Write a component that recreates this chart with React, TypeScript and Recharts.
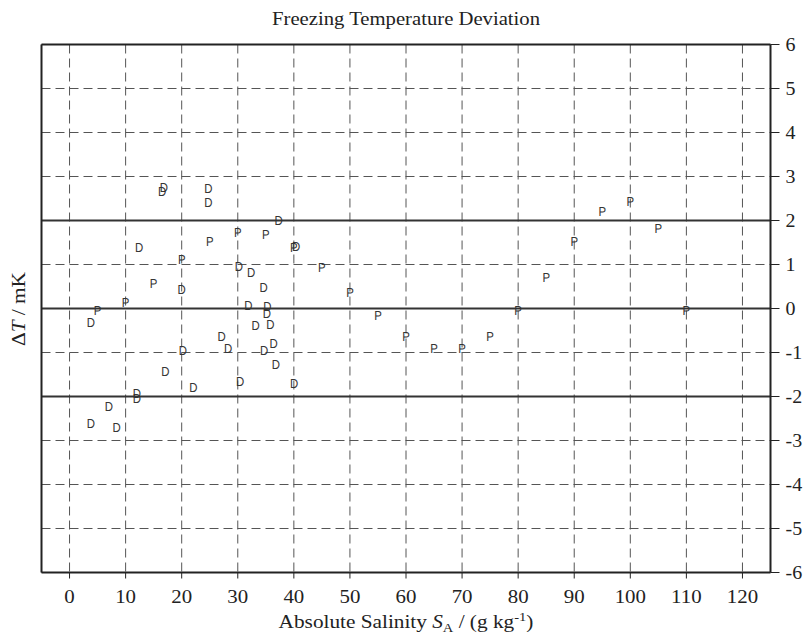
import React from 'react';
import { ScatterChart, Scatter, XAxis, YAxis, CartesianGrid, ReferenceLine } from 'recharts';

const xTicks = [0, 10, 20, 30, 40, 50, 60, 70, 80, 90, 100, 110, 120];
const yTicks = [-6, -5, -4, -3, -2, -1, 0, 1, 2, 3, 4, 5, 6];
const solidLevels = [-2, 0, 2];

// "P" series
const pSalinity = [5, 10, 15, 20, 25, 30, 35, 40, 45, 50, 55, 60, 65, 70, 75, 80, 85, 90, 95, 100, 105, 110];
const pDeltaT = [-0.05, 0.13, 0.57, 1.1, 1.52, 1.73, 1.68, 1.39, 0.92, 0.35, -0.16, -0.65, -0.92, -0.92, -0.64, -0.05, 0.69, 1.52, 2.19, 2.43, 1.81, -0.05];

// "D" series
const dSalinity = [16.8, 16.5, 24.75, 24.75, 37.3, 12.4, 40.4, 30.2, 32.4, 20, 34.6, 31.9, 35.3, 35.2, 3.8, 33.2, 35.8, 27.1, 36.4, 20.2, 28.3, 34.7, 36.8, 17.1, 30.4, 40.05, 22.1, 12, 12, 7, 3.8, 8.4];
const dDeltaT = [2.75, 2.65, 2.72, 2.4, 2.0, 1.39, 1.4, 0.94, 0.81, 0.42, 0.47, 0.06, 0.04, -0.12, -0.33, -0.39, -0.37, -0.65, -0.81, -0.97, -0.92, -0.97, -1.28, -1.44, -1.66, -1.72, -1.79, -1.94, -2.06, -2.23, -2.62, -2.7];

const pData = pSalinity.map((x, i) => ({ x, y: pDeltaT[i] }));
const dData = dSalinity.map((x, i) => ({ x, y: dDeltaT[i] }));

const SERIF = '"Liberation Serif", "Times New Roman", serif';
const SANS = '"Liberation Sans", Arial, sans-serif';

const letterShape = (ch: string) => (props: any) => (
  <text
    transform={`translate(${props.cx},${props.cy}) scale(0.88,1) skewX(0.2)`}
    x={0}
    y={0}
    textAnchor="middle"
    dominantBaseline="central"
    fontFamily={SANS}
    fontSize={13}
    fill="#333"
    opacity={0.99}
  >
    {ch}
  </text>
);

const BottomTick = (props: any) => {
  const { x, y, payload } = props;
  return (
    <text
      transform={`translate(${x},${y + 22}) scale(1.1,1)`}
      x={0}
      y={0}
      textAnchor="middle"
      fontFamily={SERIF}
      fontSize={19}
      fill="#222"
    >
      {String(payload.value)}
    </text>
  );
};

const RightTick = (props: any) => {
  const { x, y, payload } = props;
  return (
    <text
      transform={`translate(${x},${y + 6.5}) scale(1.05,1)`}
      x={0}
      y={0}
      textAnchor="start"
      fontFamily={SERIF}
      fontSize={19}
      fill="#222"
    >
      {String(payload.value)}
    </text>
  );
};

export default function App() {
  return (
    <div style={{ position: 'absolute', left: 0, top: 0, width: 805, height: 644, background: '#fff' }}>
      <ScatterChart
        width={805}
        height={644}
        margin={{ top: 44.5, left: 40.5, right: 0, bottom: 31.5 }}
      >
        <CartesianGrid
          stroke="#555"
          strokeDasharray="9 5"
          strokeWidth={1}
          horizontalValues={yTicks}
          verticalValues={xTicks}
        />
        {solidLevels.map((v) => (
          <ReferenceLine key={v} y={v} stroke="#333" strokeWidth={2} />
        ))}
        <XAxis
          type="number"
          dataKey="x"
          domain={[-5, 125]}
          ticks={xTicks}
          allowDataOverflow
          height={40}
          tickSize={6}
          tickMargin={2}
          axisLine={{ stroke: '#222', strokeWidth: 2 }}
          tickLine={{ stroke: '#222', strokeWidth: 1 }}
          tick={<BottomTick />}
          interval={0}
        />
        <XAxis
          xAxisId="top"
          type="number"
          dataKey="x"
          orientation="top"
          mirror
          domain={[-5, 125]}
          ticks={xTicks}
          allowDataOverflow
          height={1}
          tickSize={6}
          tick={false}
          axisLine={{ stroke: '#222', strokeWidth: 2 }}
          tickLine={{ stroke: '#222', strokeWidth: 1 }}
          interval={0}
        />
        <YAxis
          type="number"
          dataKey="y"
          orientation="right"
          domain={[-6, 6]}
          ticks={yTicks}
          allowDataOverflow
          width={34.5}
          tickSize={9}
          tickMargin={6}
          axisLine={{ stroke: '#222', strokeWidth: 2 }}
          tickLine={{ stroke: '#222', strokeWidth: 1 }}
          tick={<RightTick />}
          interval={0}
        />
        <YAxis
          yAxisId="left"
          type="number"
          dataKey="y"
          orientation="left"
          domain={[-6, 6]}
          ticks={yTicks}
          allowDataOverflow
          width={1}
          tick={false}
          tickLine={false}
          axisLine={{ stroke: '#222', strokeWidth: 2 }}
        />
        <Scatter name="P" data={pData} shape={letterShape('P')} isAnimationActive={false} />
        <Scatter name="D" data={dData} shape={letterShape('D')} isAnimationActive={false} />
      </ScatterChart>
      <svg
        width={805}
        height={644}
        style={{ position: 'absolute', left: 0, top: 0, pointerEvents: 'none' }}
      >
        <text
          transform="translate(406,25) scale(1.15,1)"
          x={0}
          y={0}
          textAnchor="middle"
          fontFamily={SERIF}
          fontSize={18}
          fill="#222"
        >
          Freezing Temperature Deviation
        </text>
        <text
          transform="translate(406,628) scale(1.12,1)"
          x={0}
          y={0}
          textAnchor="middle"
          fontFamily={SERIF}
          fontSize={19}
          fill="#222"
        >
          Absolute Salinity <tspan fontStyle="italic">S</tspan>
          <tspan fontSize={13} dy={4}>A</tspan>
          <tspan dy={-4}> / (g kg</tspan>
          <tspan fontSize={13} dy={-7}>-1</tspan>
          <tspan dy={7}>)</tspan>
        </text>
        <text
          transform="translate(25,309) rotate(-90) scale(1.12,1)"
          x={0}
          y={0}
          textAnchor="middle"
          fontFamily={SERIF}
          fontSize={19}
          fill="#222"
        >
          Δ<tspan fontStyle="italic">T</tspan> / mK
        </text>
      </svg>
    </div>
  );
}
